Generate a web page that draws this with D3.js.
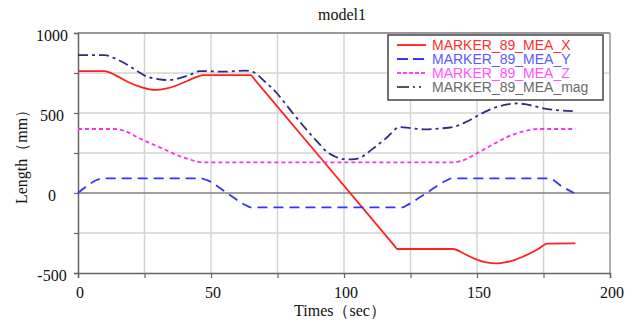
<!DOCTYPE html>
<html>
<head>
<meta charset="utf-8">
<script src="https://cdn.jsdelivr.net/npm/d3@7"></script>
<style>
  body { margin: 0; background: #fff; }
  .serif { font-family: "Liberation Serif", "Times New Roman", serif; }
  .sans { font-family: "Liberation Sans", Arial, sans-serif; }
</style>
</head>
<body>
<div id="chart"></div>
<script>
// values (time in sec, length in mm)
var timeX = [0, 10, 14, 19, 24, 29, 33, 37, 41, 45, 47, 65, 66, 119, 120, 141, 145, 149, 153, 157.5, 161, 164, 167, 170, 173, 176.5, 187];
var valX  = [762, 762, 737, 692, 660, 644, 652, 672, 700, 728, 737, 737, 717, -330, -350, -350, -378, -410, -432, -440, -432, -419, -400, -377, -350, -316, -315];

var timeY = [0, 10, 46, 48.5, 56, 63.5, 65, 122, 123.5, 131, 138.5, 140.5, 177, 182, 186.5];
var valY  = [0, 92, 92, 80, 0, -80, -90, -90, -78, 0, 78, 92, 92, 40, 0];

var timeZ = [0, 14, 18, 23, 28, 33, 38, 42, 45, 48, 141, 144, 150, 154, 158.7, 163, 167.5, 173, 187];
var valZ  = [400, 400, 385, 342, 305, 269, 232, 210, 195, 192, 192, 200, 248, 285, 328, 362, 385, 400, 400];

var timeMag = [0, 10, 14, 18.7, 22, 26, 30, 33.8, 37, 40, 43, 45.7, 55, 63, 66, 70, 74.7, 80, 86, 90, 93.5, 97, 100, 103, 106, 111, 116, 121, 125, 130, 136, 142.4, 146, 150, 154, 158.7, 162, 165, 168, 171, 175, 180, 186];
var valMag  = [862, 862, 840, 800, 765, 727, 712, 706, 712, 727, 745, 762, 758, 765, 755, 700, 625, 515, 394, 320, 258, 225, 212, 210, 220, 279, 345, 412, 405, 398, 403, 419, 445, 481, 515, 544, 555, 560, 555, 545, 529, 518, 512];

var seriesNames = ['MARKER_89_MEA_X', 'MARKER_89_MEA_Y', 'MARKER_89_MEA_Z', 'MARKER_89_MEA_mag'];
var xTicks = [0, 50, 100, 150, 200];
var yTicks = [-500, 0, 500, 1000];

var OuterWidth = 634;
var OuterHeight = 322;
var margin = { left: 78, top: 33, right: 24, bottom: 49 };
var innerWidth  = OuterWidth  - margin.left - margin.right;
var innerHeight = OuterHeight - margin.top  - margin.bottom;

var svg = d3.select('#chart').append('svg')
    .attr('width', OuterWidth)
    .attr('height', OuterHeight);

var g = svg.append('g')
    .attr('transform', 'translate(' + margin.left + ',' + margin.top + ')');

var xScale = d3.scaleLinear().domain([0, 200]).range([0, innerWidth]);
var yScale = d3.scaleLinear().domain([-500, 1000]).range([innerHeight, 0]);

// grid every 25 sec / 250 mm
g.selectAll('.vgrid')
    .data(d3.range(25, 200, 25))
    .enter().append('line')
    .attr('x1', function (d) { return xScale(d); })
    .attr('x2', function (d) { return xScale(d); })
    .attr('y1', 0).attr('y2', innerHeight)
    .attr('stroke', '#d4d4d4').attr('stroke-width', 1.5);

g.selectAll('.hgrid')
    .data([-250, 250, 500, 750])
    .enter().append('line')
    .attr('x1', 0).attr('x2', innerWidth)
    .attr('y1', function (d) { return yScale(d); })
    .attr('y2', function (d) { return yScale(d); })
    .attr('stroke', '#d4d4d4').attr('stroke-width', 1.5);

// zero line
g.append('line')
    .attr('x1', 0).attr('x2', innerWidth)
    .attr('y1', yScale(0)).attr('y2', yScale(0))
    .attr('stroke', '#808080').attr('stroke-width', 1.5);

// frame
g.append('line').attr('x1', 0).attr('x2', innerWidth).attr('y1', 0).attr('y2', 0)
    .attr('stroke', '#777').attr('stroke-width', 1.5);
g.append('line').attr('x1', innerWidth).attr('x2', innerWidth).attr('y1', 0).attr('y2', innerHeight)
    .attr('stroke', '#999').attr('stroke-width', 1.5);

var xAxis = d3.axisBottom(xScale).tickValues(d3.range(0, 201, 25)).tickSize(5).tickFormat('');
var yAxis = d3.axisLeft(yScale).tickValues(d3.range(-500, 1001, 250)).tickSize(4).tickFormat('');

var xAxisG = g.append('g')
    .attr('transform', 'translate(0,' + innerHeight + ')')
    .call(xAxis);
var yAxisG = g.append('g').call(yAxis);
[xAxisG, yAxisG].forEach(function (a) {
    a.select('.domain').attr('stroke', '#666').attr('stroke-width', 1.5);
    a.selectAll('.tick line').attr('stroke', '#666').attr('stroke-width', 1.2);
});

// tick labels
g.selectAll('.xlab')
    .data(xTicks)
    .enter().append('text')
    .attr('class', 'serif')
    .attr('x', function (d) { return xScale(d) + 2; })
    .attr('y', innerHeight + 25)
    .attr('text-anchor', 'middle')
    .attr('font-size', 16)
    .attr('fill', '#111')
    .text(function (d) { return d; });

g.selectAll('.ylab')
    .data(yTicks)
    .enter().append('text')
    .attr('class', 'serif')
    .attr('x', -26)
    .attr('y', function (d) { return yScale(d) + 2; })
    .attr('dy', '0.35em')
    .attr('text-anchor', 'middle')
    .attr('font-size', 16)
    .attr('fill', '#111')
    .text(function (d) { return d; });

// titles
svg.append('text').attr('class', 'serif')
    .attr('x', 342).attr('y', 20)
    .attr('text-anchor', 'middle').attr('font-size', 16).attr('fill', '#111')
    .text('model1');

svg.append('text').attr('class', 'serif')
    .attr('x', 340).attr('y', 316)
    .attr('text-anchor', 'middle').attr('font-size', 16).attr('fill', '#111')
    .text('Times（sec）');

svg.append('text').attr('class', 'serif')
    .attr('transform', 'translate(27,153) rotate(-90)')
    .attr('text-anchor', 'middle').attr('font-size', 16).attr('fill', '#111')
    .text('Length（mm）');

// series
var series = [
    { t: timeX, v: valX, color: '#ff2020', dash: null, text: '#ff3030' },
    { t: timeY, v: valY, color: '#3535ff', dash: '10,6', text: '#5a5aff' },
    { t: timeZ, v: valZ, color: '#ff30e0', dash: '4,3', text: '#ff55ff' },
    { t: timeMag, v: valMag, color: '#2c2f80', dash: '10,4,3,4', text: '#6a6a6a' }
];

var line = d3.line()
    .x(function (d) { return xScale(d[0]); })
    .y(function (d) { return yScale(d[1]); })
    .curve(d3.curveMonotoneX);

series.forEach(function (s) {
    g.append('path')
        .datum(d3.zip(s.t, s.v))
        .attr('fill', 'none')
        .attr('stroke', s.color)
        .attr('stroke-width', 1.8)
        .attr('stroke-dasharray', s.dash)
        .attr('d', line);
});

// legend
var legend = svg.append('g').attr('transform', 'translate(388,35)');
legend.append('rect')
    .attr('width', 215).attr('height', 65)
    .attr('fill', '#fff').attr('stroke', '#444').attr('stroke-width', 1.5);

var legendDash = [null, '11,5', '4,2', '12,4,2,4,2,5'];
var legendColor = ['#ff2020', '#3535ff', '#ff40ff', '#555'];
series.forEach(function (s, i) {
    var yy = 10 + i * 14;
    legend.append('line')
        .attr('x1', 9).attr('x2', 38)
        .attr('y1', yy).attr('y2', yy)
        .attr('stroke', legendColor[i]).attr('stroke-width', 1.8)
        .attr('stroke-dasharray', legendDash[i]);
    legend.append('text')
        .attr('class', 'sans')
        .attr('x', 44).attr('y', yy + 5)
        .attr('font-size', 14)
        .attr('fill', s.text)
        .text(seriesNames[i]);
});
</script>
</body>
</html>
